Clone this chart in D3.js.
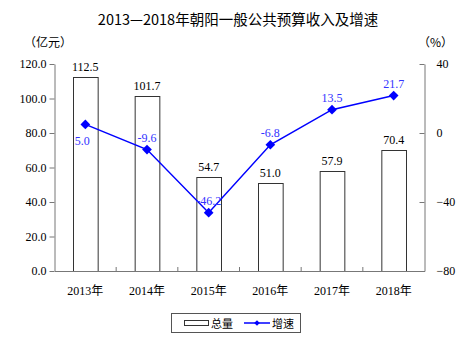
<!DOCTYPE html>
<html><head><meta charset="utf-8">
<script src="https://cdn.jsdelivr.net/npm/d3@7"></script>
<style>body{margin:0;background:#fff}svg{display:block}</style>
</head><body>
<svg id="c" width="473" height="341"></svg>
<script>
const categories = ["2013年","2014年","2015年","2016年","2017年","2018年"];
const totals = [112.5, 101.7, 54.7, 51.0, 57.9, 70.4];
const growth = [5.0, -9.6, -46.2, -6.8, 13.5, 21.7];
const leftTicks = [0, 20, 40, 60, 80, 100, 120];
const rightTicks = [-80, -40, 0, 40];

const svg = d3.select("#c");
const serif = "'Liberation Serif','Noto Sans CJK SC',serif";
const cjk = "'Noto Sans CJK SC','Liberation Sans',sans-serif";
const L = 54.5, R = 424.5, T = 64, B = 271;

const x = d3.scaleBand().domain(categories).range([L, R]).paddingInner(0.6).paddingOuter(0.3);
const xb = d3.scaleBand().domain(categories).range([L, R]);
const yL = d3.scaleLinear().domain([0, 120]).range([B, T]);
const yR = d3.scaleLinear().domain([-80, 40]).range([B, T]);

svg.append("text").attr("x", 238).attr("y", 25).attr("text-anchor", "middle")
  .attr("font-family", cjk).attr("font-size", 14.5).attr("fill", "#000")
  .text("2013—2018年朝阳一般公共预算收入及增速");
svg.append("text").attr("x", 24).attr("y", 47).attr("font-family", cjk).attr("font-size", 12).text("（亿元）");
svg.append("text").attr("x", 418).attr("y", 47).attr("font-family", cjk).attr("font-size", 12).text("（%）");

// bars
svg.selectAll("rect.bar").data(totals).join("rect")
  .attr("x", (d,i) => x(categories[i]) + 0.5)
  .attr("y", d => Math.round(yL(d)) + 0.5)
  .attr("width", x.bandwidth())
  .attr("height", d => B - Math.round(yL(d)))
  .attr("fill", "#fff").attr("stroke", "#333").attr("stroke-width", 1);
svg.selectAll("text.bl").data(totals).join("text")
  .attr("x", (d,i) => x(categories[i]) + x.bandwidth()/2)
  .attr("y", d => yL(d) - 6)
  .attr("text-anchor", "middle").attr("font-family", serif).attr("font-size", 12)
  .text(d => d.toFixed(1));

// axes
const gl = svg.append("g").attr("transform", `translate(${L},0)`)
  .call(d3.axisLeft(yL).tickValues(leftTicks).tickFormat(d3.format(".1f")).tickSize(5).tickSizeOuter(0));
const gr = svg.append("g").attr("transform", `translate(${R},0)`)
  .call(d3.axisRight(yR).tickValues(rightTicks).tickFormat(d3.format("d")).tickSize(-5).tickSizeOuter(0));
gr.selectAll(".tick text").attr("x", 12);
const gb = svg.append("g").attr("transform", `translate(0,${B})`)
  .call(d3.axisBottom(xb).tickSize(0).tickPadding(15).tickSizeOuter(0));
[gl, gr, gb].forEach(g => {
  g.selectAll("path.domain").attr("stroke", "#777");
  g.selectAll(".tick line").attr("stroke", "#777");
  g.selectAll(".tick text").attr("font-family", serif).attr("font-size", 12).attr("fill", "#000");
});
// inner category boundary ticks on bottom axis
svg.selectAll("line.bt").data(categories.slice(1)).join("line")
  .attr("x1", d => xb(d)).attr("x2", d => xb(d))
  .attr("y1", B).attr("y2", B - 4).attr("stroke", "#777");

// line
const px = (d,i) => xb(categories[i]) + xb.bandwidth()/2;
svg.append("path").datum(growth)
  .attr("d", d3.line().x(px).y(d => yR(d)))
  .attr("fill", "none").attr("stroke", "#0000ff").attr("stroke-width", 1.5);
svg.selectAll("path.pt").data(growth).join("path")
  .attr("transform", (d,i) => `translate(${px(d,i)},${yR(d)})`)
  .attr("d", d3.symbol(d3.symbolDiamond2, 60))
  .attr("fill", "#0000ff");
svg.selectAll("text.gl").data(growth).join("text")
  .attr("x", (d,i) => px(d,i) - (i === 0 ? 3 : 0))
  .attr("y", (d,i) => i === 0 ? yR(d) + 21 : yR(d) - 8)
  .attr("text-anchor", "middle").attr("font-family", serif).attr("font-size", 12)
  .attr("fill", "#3333ff")
  .text(d => d.toFixed(1));

// legend
svg.append("rect").attr("x", 171.5).attr("y", 313.5).attr("width", 129).attr("height", 19)
  .attr("fill", "#fff").attr("stroke", "#555");
svg.append("rect").attr("x", 184.5).attr("y", 320.5).attr("width", 24).attr("height", 5)
  .attr("fill", "#fff").attr("stroke", "#333");
svg.append("text").attr("x", 211).attr("y", 328).attr("font-family", cjk).attr("font-size", 11).text("总量");
svg.append("line").attr("x1", 244).attr("x2", 270).attr("y1", 323).attr("y2", 323)
  .attr("stroke", "#0000ff").attr("stroke-width", 1.5);
svg.append("path").attr("transform", "translate(257,323)").attr("d", d3.symbol(d3.symbolDiamond2, 20)).attr("fill", "#0000ff");
svg.append("text").attr("x", 272).attr("y", 328).attr("font-family", cjk).attr("font-size", 11).text("增速");
</script>
</body></html>
